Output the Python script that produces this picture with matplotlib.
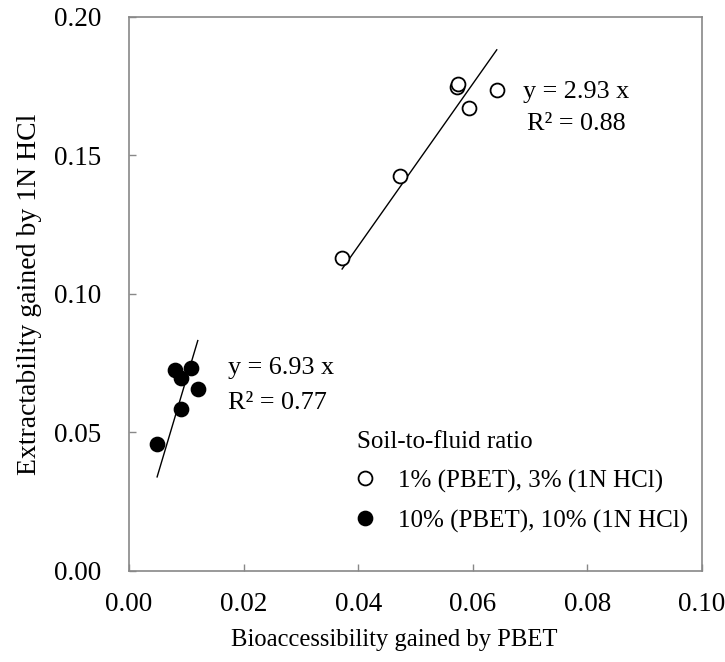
import matplotlib
matplotlib.use("Agg")
import matplotlib.pyplot as plt
import numpy as np

plt.rcParams['font.family'] = ['Liberation Serif', 'DejaVu Serif']

# Data
open_x = [0.0372, 0.0473, 0.0572, 0.0575, 0.0593, 0.0642]
open_y = [0.1131, 0.1427, 0.1748, 0.1757, 0.1670, 0.1736]
filled_x = [0.0080, 0.0109, 0.0090, 0.0120, 0.0090, 0.0049]
filled_y = [0.0726, 0.0732, 0.0698, 0.0658, 0.0585, 0.0457]
slope_open = 2.93
slope_filled = 6.93
r2_open = 0.88
r2_filled = 0.77
legend_labels = ["1% (PBET), 3% (1N HCl)", "10% (PBET), 10% (1N HCl)"]
xticks = [0.00, 0.02, 0.04, 0.06, 0.08, 0.10]
yticks = [0.00, 0.05, 0.10, 0.15, 0.20]

fig = plt.figure(figsize=(7.25, 6.62), dpi=100)
ax = fig.add_axes([0.178, 0.1375, 0.790, 0.837])

fs_tick = 19.5
fs_ann = 18.8
fs_leg = 18
h1, = ax.plot(open_x, open_y, 'o', mfc='white', mec='black', ms=10, mew=1.3,
              linestyle='none', label=legend_labels[0], zorder=3)
h2, = ax.plot(filled_x, filled_y, 'o', mfc='black', mec='black', ms=10, mew=1.3,
              linestyle='none', label=legend_labels[1], zorder=3)

xo = np.array([min(open_x), max(open_x)])
ax.plot(xo, slope_open * xo, color='black', lw=1.0, zorder=2)
xf = np.array([min(filled_x), max(filled_x)])
ax.plot(xf, slope_filled * xf, color='black', lw=1.0, zorder=2)

ax.text(0.0688, 0.1729, f"y = {slope_open:.2f} x", fontsize=fs_ann, va='center', ha='left')
ax.text(0.0695, 0.1614, f"R² = {r2_open:.2f}", fontsize=fs_ann, va='center', ha='left')
ax.text(0.0173, 0.0733, f"y = {slope_filled:.2f} x", fontsize=fs_ann, va='center', ha='left')
ax.text(0.0173, 0.0606, f"R² = {r2_filled:.2f}", fontsize=fs_ann, va='center', ha='left')

ax.set_xlim(0, 0.10)
ax.set_ylim(0, 0.20)
ax.set_xticks(xticks)
ax.set_yticks(yticks)
ax.set_xticklabels([f"{t:.2f}" for t in xticks], fontsize=fs_tick)
ax.set_yticklabels([f"{t:.2f}" for t in yticks], fontsize=fs_tick)
ax.tick_params(direction='in', length=5, color='#888888', width=1)
ax.tick_params(axis='y', pad=20)
ax.tick_params(axis='x', pad=15)
for s in ax.spines.values():
    s.set_color('#888888')
    s.set_linewidth(1.2)

ax.set_xlabel("Bioaccessibility gained by PBET", fontsize=17.7)
ax.set_ylabel("Extractability gained by 1N HCl", fontsize=20)
ax.xaxis.set_label_coords(0.4625, -0.104)
ax.yaxis.set_label_coords(-0.152, 0.5)

leg = ax.legend(handles=[h1, h2], title="Soil-to-fluid ratio", loc='upper left',
                bbox_to_anchor=(0.398, 0.253), frameon=False, fontsize=fs_leg,
                title_fontsize=fs_leg, handletextpad=1.04, labelspacing=0.68,
                handlelength=0.6, borderpad=0, borderaxespad=0, markerscale=1.0)
leg._legend_box.align = "left"
leg._legend_box.sep = 12

fig.savefig("out.png", dpi=100)
